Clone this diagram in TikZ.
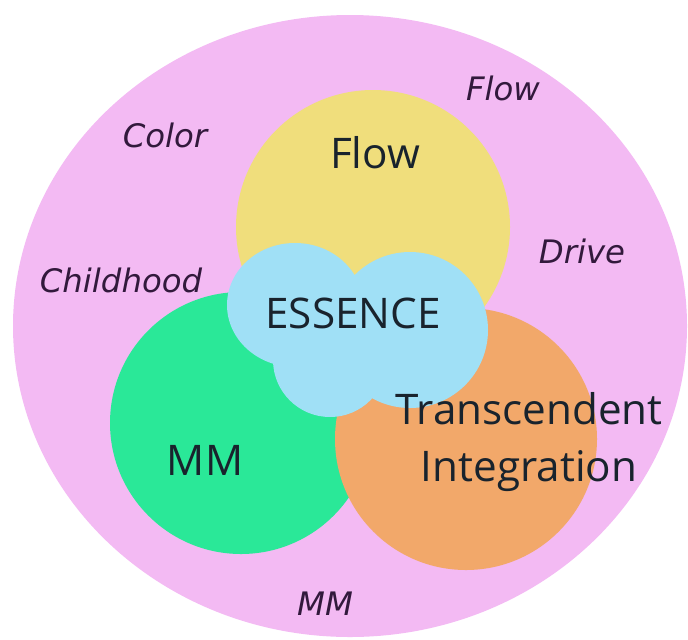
\documentclass[tikz,border=0pt]{standalone}
\usepackage{fontspec}
\setmainfont{Open Sans}
\newfontfamily\handfont{DejaVu Sans}
\usepackage{xcolor}

\definecolor{outerpink}{RGB}{243,186,243}
\definecolor{flowyellow}{RGB}{240,222,124}
\definecolor{mmgreen}{RGB}{42,232,152}
\definecolor{tiorange}{RGB}{242,168,106}
\definecolor{essblue}{RGB}{160,224,246}
\definecolor{inkpurple}{RGB}{50,25,60}
\definecolor{inkdark}{RGB}{25,35,45}

\begin{document}
\begin{tikzpicture}[x=0.025cm, y=-0.025cm,
    big/.style={font=\fontsize{30}{40}\selectfont, text=inkdark, inner sep=0pt},
    hand/.style={font=\handfont\itshape\fontsize{23}{28}\selectfont, text=inkpurple, inner sep=0pt}]
    \useasboundingbox (0,0) rectangle (688,639);

    % Outer circle
    \fill[outerpink] (350,326) ellipse [x radius=337, y radius=311];

    % The three inner circles
    \fill[flowyellow] (373,227) circle (137);
    \fill[mmgreen] (241,423) circle (131);
    \fill[tiorange] (466,439) circle (131);

    % Cloud in the middle
    \fill[essblue] (295,305) ellipse [x radius=68, y radius=62]
                   (410,330) circle (78)
                   (330,360) circle (57);

    % Labels of the circles
    \node[big, anchor=base] (flow) at (375,168) {Flow};
    \node[big, anchor=base] (essence) at (353,328) {ESSENCE};
    \node[big, anchor=base] (mm) at (205,475) {MM};
    \node[big, align=center] (integration) at (529,442) {Transcendent\\Integration};

    % Words around the ring
    \node[hand, anchor=base] (color) at (165,147) {Color};
    \node[hand, anchor=base] (flowword) at (503,100) {Flow};
    \node[hand, anchor=base] (drive) at (582,263) {Drive};
    \node[hand, anchor=base] (childhood) at (121,292) {Childhood};
    \node[hand, anchor=base] (mmword) at (325,615) {MM};
\end{tikzpicture}
\end{document}
